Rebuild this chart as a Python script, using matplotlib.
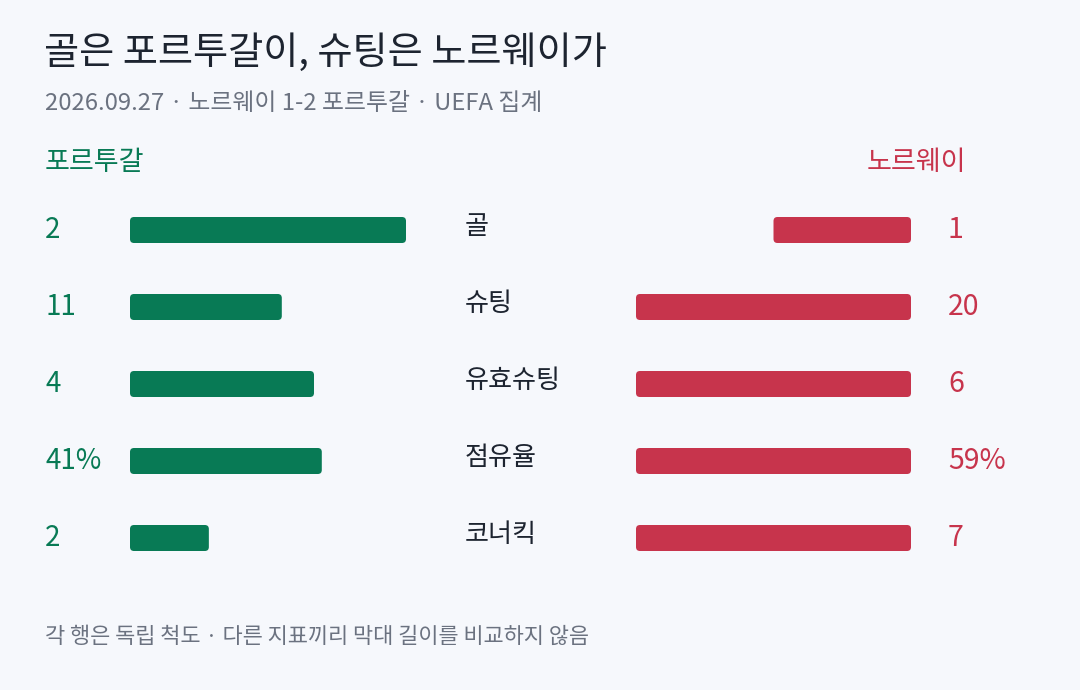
import matplotlib
matplotlib.use("Agg")
import matplotlib.pyplot as plt
from matplotlib.patches import FancyBboxPatch
from matplotlib.transforms import blended_transform_factory

plt.rcParams['font.family'] = ['Noto Sans CJK KR', 'DejaVu Sans']

# Data
categories = ['골', '슈팅', '유효슈팅', '점유율', '코너킥']
portugal = [2, 11, 4, 41, 2]
norway = [1, 20, 6, 59, 7]
units = ['', '', '', '%', '']

title = '골은 포르투갈이, 슈팅은 노르웨이가'
subtitle = '2026.09.27 · 노르웨이 1-2 포르투갈 · UEFA 집계'
footer = '각 행은 독립 척도 · 다른 지표끼리 막대 길이를 비교하지 않음'

# Colors
BG = '#f6f8fc'
GREEN = '#087a55'
RED = '#c7344c'
DARK = '#1d2430'
GRAY = '#6b7280'

W, H = 1080, 690
fig = plt.figure(figsize=(W / 100, H / 100), dpi=100, facecolor=BG)


def fx(px):
    return px / W


def fy(py):
    return 1 - py / H


n = len(categories)
row_top, row_step = 191.5, 77
ax_h = row_step * n
ax_l = fig.add_axes([fx(130), fy(row_top + ax_h), fx(276), ax_h / H])
ax_r = fig.add_axes([fx(636), fy(row_top + ax_h), fx(275), ax_h / H])

bar_h = 26 / row_step
for ax, vals, other, color in [(ax_l, portugal, norway, GREEN),
                               (ax_r, norway, portugal, RED)]:
    ax.set_xlim(0, 1)
    ax.set_ylim(n - 0.5, -0.5)
    ax.axis('off')
    ax.set_facecolor('none')
    bb = ax.get_window_extent()
    px_x = bb.width
    px_y = bb.height / n
    r = 4 / px_x
    for i, (v, o) in enumerate(zip(vals, other)):
        frac = v / max(v, o)
        box = FancyBboxPatch((0, i - bar_h / 2), frac, bar_h,
                             boxstyle=f'round,pad=0,rounding_size={r}',
                             mutation_aspect=px_x / px_y,
                             facecolor=color, edgecolor='none')
        ax.add_patch(box)

ax_r.invert_xaxis()

tr = blended_transform_factory(fig.transFigure, ax_l.transData)
for i, cat in enumerate(categories):
    fig.text(fx(45), i, f'{portugal[i]}{units[i]}', transform=tr,
             color=GREEN, fontsize=20, va='center', ha='left')
    fig.text(fx(948), i, f'{norway[i]}{units[i]}', transform=tr,
             color=RED, fontsize=20.5, va='center', ha='left')
    fig.text(fx(465), i - 0.05, cat, transform=tr,
             color=DARK, fontsize=18.8, va='center', ha='left')

# Titles and headers
fig.text(fx(44), fy(53), title, color=DARK, fontsize=27.5, va='center', ha='left')
fig.text(fx(45), fy(104), subtitle, color=GRAY, fontsize=17.2, va='center', ha='left')
fig.text(fx(45), fy(162), '포르투갈', color=GREEN, fontsize=19.5, va='center', ha='left')
fig.text(fx(966), fy(162), '노르웨이', color=RED, fontsize=19.5, va='center', ha='right')
fig.text(fx(45), fy(637), footer, color=GRAY, fontsize=15.8, va='center', ha='left')

plt.savefig('out.png', dpi=100, facecolor=BG)
